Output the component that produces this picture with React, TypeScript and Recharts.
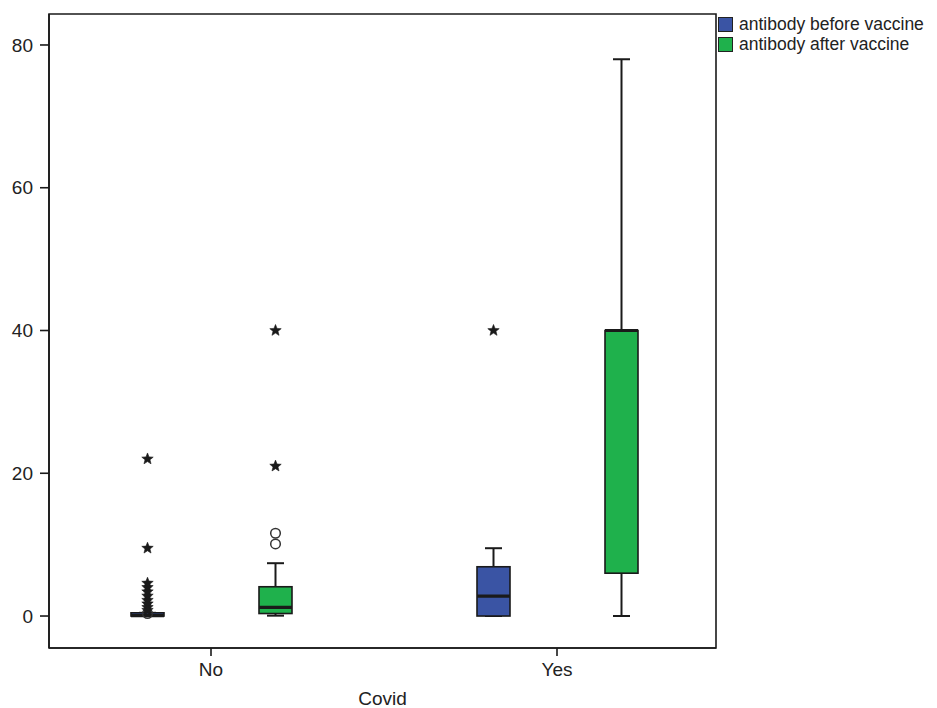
import React from 'react';
import { ComposedChart, Bar, XAxis, YAxis, Legend, ReferenceArea } from 'recharts';

// ---- data ----
const categories = ['No', 'Yes'];
const seriesNames = ['antibody before vaccine', 'antibody after vaccine'];
const seriesKeys = ['before', 'after'];
const seriesColors = ['#3a54a4', '#1fb14c'];

const beforeWhiskerLow = [0, 0];
const beforeQ1 = [0, 0];
const beforeMedian = [0.05, 2.8];
const beforeQ3 = [0.45, 6.9];
const beforeWhiskerHigh = [0.45, 9.5];
const beforeOutliers: number[][] = [[0.35], []];
const beforeExtremes: number[][] = [[22, 9.5, 4.6, 4.0, 3.4, 2.8, 2.2, 1.7, 1.2, 0.8], [40]];

const afterWhiskerLow = [0.05, 0];
const afterQ1 = [0.35, 6.0];
const afterMedian = [1.2, 40];
const afterQ3 = [4.1, 40];
const afterWhiskerHigh = [7.4, 78];
const afterOutliers: number[][] = [[11.6, 10.1], []];
const afterExtremes: number[][] = [[40, 21], []];

const yTicks = [0, 20, 40, 60, 80];
const yDomain = [-4.48, 84.34];
const xAxisTitle = 'Covid';

// ---- build table ----
const mk = (i: number, wl: number[], q1: number[], md: number[], q3: number[], wh: number[], out: number[][], ext: number[][]) => {
  const all = [wl[i], q1[i], md[i], q3[i], wh[i], ...out[i], ...ext[i]];
  return {
    whiskerLow: wl[i], q1: q1[i], median: md[i], q3: q3[i], whiskerHigh: wh[i],
    outliers: out[i], extremes: ext[i],
    lo: Math.min(...all), hi: Math.max(...all),
  };
};

const data = categories.map((cat, i) => ({
  cat,
  before: mk(i, beforeWhiskerLow, beforeQ1, beforeMedian, beforeQ3, beforeWhiskerHigh, beforeOutliers, beforeExtremes),
  after: mk(i, afterWhiskerLow, afterQ1, afterMedian, afterQ3, afterWhiskerHigh, afterOutliers, afterExtremes),
}));

const FONT = '"Liberation Sans", Arial, Helvetica, sans-serif';
const INK = '#1a1a1a';

const starPath = (cx: number, cy: number, R: number, r: number) => {
  let d = '';
  for (let k = 0; k < 10; k++) {
    const rad = k % 2 === 0 ? R : r;
    const a = -Math.PI / 2 + (k * Math.PI) / 5;
    d += (k === 0 ? 'M' : 'L') + (cx + rad * Math.cos(a)).toFixed(2) + ',' + (cy + rad * Math.sin(a)).toFixed(2);
  }
  return d + 'Z';
};

const BoxShape = (props: any) => {
  const { x, y, width, height, payload, seriesKey, color } = props;
  const s = payload[seriesKey];
  const span = s.hi - s.lo || 1;
  const py = (v: number) => y + (height * (s.hi - v)) / span;
  const cx = x + width / 2;
  const capHalf = 8.5;
  const top = py(s.q3);
  const bot = py(s.q1);
  return (
    <g>
      <line x1={cx} x2={cx} y1={py(s.whiskerHigh)} y2={top} stroke={INK} strokeWidth={2} />
      <line x1={cx} x2={cx} y1={bot} y2={py(s.whiskerLow)} stroke={INK} strokeWidth={2} />
      <line x1={cx - capHalf} x2={cx + capHalf} y1={py(s.whiskerHigh)} y2={py(s.whiskerHigh)} stroke={INK} strokeWidth={2} />
      <line x1={cx - capHalf} x2={cx + capHalf} y1={py(s.whiskerLow)} y2={py(s.whiskerLow)} stroke={INK} strokeWidth={2} />
      <rect x={x} y={top} width={width} height={Math.max(bot - top, 0.5)} fill={color} stroke={INK} strokeWidth={1.6} />
      <line x1={x} x2={x + width} y1={py(s.median)} y2={py(s.median)} stroke={INK} strokeWidth={3.2} />
      {s.outliers.map((v: number, k: number) => (
        <circle key={'o' + k} cx={cx} cy={py(v)} r={4.8} fill="none" stroke="#333" strokeWidth={1.5} />
      ))}
      {s.extremes.map((v: number, k: number) => (
        <path key={'e' + k} d={starPath(cx, py(v), 6, 2.6)} fill={INK} stroke={INK} strokeWidth={0.6} />
      ))}
    </g>
  );
};

const LegendContent = () => (
  <div style={{ fontFamily: FONT, fontSize: 17.5, color: '#222' }}>
    {seriesNames.map((n, i) => (
      <div key={n} style={{ display: 'flex', alignItems: 'center', height: 19.5, whiteSpace: 'nowrap' }}>
        <span
          style={{
            display: 'inline-block', width: 15, height: 15, boxSizing: 'border-box',
            background: seriesColors[i], border: '1.3px solid #222', marginRight: 6,
          }}
        />
        <span>{n}</span>
      </div>
    ))}
  </div>
);

export default function App() {
  const tickStyle = { fontFamily: FONT, fontSize: 19, fill: '#222' };
  return (
    <div style={{ position: 'absolute', left: 0, top: 0, background: '#fff' }}>
      <ComposedChart
        width={937}
        height={708}
        data={data}
        margin={{ top: 14, right: 221, bottom: 0, left: 0 }}
        barGap={95}
        style={{ fontFamily: FONT }}
      >
        <XAxis xAxisId="frame" dataKey="cat" type="category" hide />
        <ReferenceArea
          xAxisId="frame"
          y1={yDomain[0]}
          y2={yDomain[1]}
          fill="none"
          fillOpacity={0}
          stroke={INK}
          strokeWidth={1.6}
          ifOverflow="visible"
        />
        <XAxis
          dataKey="cat"
          type="category"
          height={60}
          padding={{ left: -11, right: -14 }}
          tickSize={8}
          tickMargin={7}
          tick={tickStyle}
          axisLine={{ stroke: INK, strokeWidth: 1.6 }}
          tickLine={{ stroke: INK, strokeWidth: 1.6 }}
          label={{ value: xAxisTitle, position: 'insideBottom', offset: 3, style: { fontFamily: FONT, fontSize: 19, fill: '#222' } }}
        />
        <YAxis
          type="number"
          domain={yDomain}
          ticks={yTicks}
          allowDataOverflow
          width={49}
          tickSize={9}
          tickMargin={7}
          tick={tickStyle}
          axisLine={{ stroke: INK, strokeWidth: 1.6 }}
          tickLine={{ stroke: INK, strokeWidth: 1.6 }}
        />
        {seriesKeys.map((key, i) => (
          <Bar
            key={key}
            dataKey={(d: any) => [d[key].lo, d[key].hi]}
            name={seriesNames[i]}
            fill={seriesColors[i]}
            barSize={33}
            isAnimationActive={false}
            shape={(p: any) => <BoxShape {...p} seriesKey={key} color={seriesColors[i]} />}
          />
        ))}
        <Legend
          layout="vertical"
          align="center"
          verticalAlign="middle"
          wrapperStyle={{ left: 718, top: 15, width: 'auto', height: 'auto' }}
          content={LegendContent}
        />
      </ComposedChart>
    </div>
  );
}
